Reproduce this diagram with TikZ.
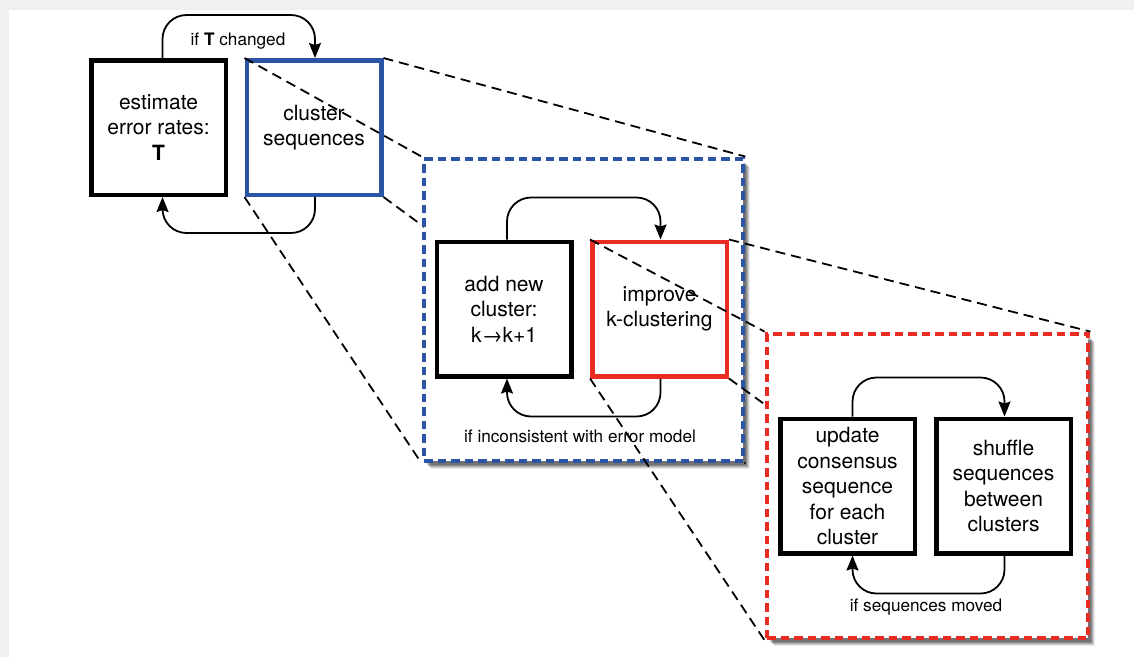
\documentclass[tikz,border=0pt]{standalone}
\usepackage{fontspec}
\setmainfont{TeX Gyre Heros}
\usetikzlibrary{arrows.meta}
\definecolor{boxblue}{RGB}{44,84,164}
\definecolor{boxred}{RGB}{232,44,36}
\definecolor{framegray}{RGB}{240,240,240}
\pgfdeclarelayer{base}
\pgfdeclarelayer{zoomA}
\pgfdeclarelayer{mid}
\pgfdeclarelayer{zoomB}
\pgfsetlayers{base,zoomA,mid,zoomB,main}

\begin{document}
\begin{tikzpicture}[x=1pt,y=-1pt,
  stepbox/.style={draw, line width=4.5pt, fill=white,
    minimum width=134.5pt, minimum height=134.5pt, inner sep=0pt,
    align=center, font=\fontsize{21}{25.5}\selectfont},
  shadowstep/.style n args={3}{preaction={draw=none, fill=black, fill opacity=#3,
    transform canvas={xshift=#1, yshift=#2}}},
  zoombox/.style={line width=4.8pt, dash pattern=on 8.5pt off 5pt, fill=white,
    inner sep=0pt,
    shadowstep={6.5pt}{-7.5pt}{0.08}, shadowstep={5.5pt}{-6.5pt}{0.12},
    shadowstep={4.5pt}{-5.5pt}{0.16}, shadowstep={3.5pt}{-4.5pt}{0.18},
    shadowstep={2.5pt}{-3.5pt}{0.18}},
  loop/.style={line width=1.8pt, rounded corners=24pt,
    -{Stealth[length=15pt,width=12pt,inset=2pt]}},
  looplabel/.style={font=\fontsize{17.2}{20}\selectfont, inner sep=1pt},
  zoomline/.style={line width=1.8pt, dash pattern=on 10pt off 6pt}]

\useasboundingbox (0,0) rectangle (1134,657);

% page frame
\begin{pgfonlayer}{base}
  \fill[framegray] (0,0) rectangle (1134,657);
  \fill[white] (9,10) rectangle (1134,657);
\end{pgfonlayer}

% outer loop: estimate error rates / cluster sequences
\begin{pgfonlayer}{base}
  \node[stepbox] (A) at (158.5,127.5) {estimate\\error rates:\\{\bfseries T}};
  \node[stepbox, draw=boxblue] (B) at (314,127.5) {cluster\\sequences};
  \draw[loop] ([xshift=4pt]A.north) -- ++(0,-43) -| ([xshift=1pt]B.north);
  \node[looplabel] (lT) at (238,41) {if {\bfseries T} changed};
  \draw[loop] ([xshift=1pt]B.south) -- ++(0,36) -| ([xshift=4pt]A.south);
\end{pgfonlayer}

% expansion of the clustering step
\begin{pgfonlayer}{mid}
  \node[zoombox, draw=boxblue, minimum width=319pt, minimum height=302pt]
    (C) at (583.5,310) {};
  \node[stepbox] (D) at (504,309) {add new\\cluster:\\k→k+1};
  \node[stepbox, draw=boxred] (E) at (659.5,309) {improve\\k-clustering};
  \draw[loop] ([xshift=3pt]D.north) -- ++(0,-42) -| ([xshift=1pt]E.north);
  \draw[loop] ([xshift=1pt]E.south) -- ++(0,38) -| ([xshift=3pt]D.south);
  \node[looplabel] (lC) at (580,436) {if inconsistent with error model};
\end{pgfonlayer}

\begin{pgfonlayer}{zoomA}
  \draw[zoomline] (B.north west) -- (C.north west);
  \draw[zoomline] (B.north east) -- (C.north east);
  \draw[zoomline] (B.south west) -- (C.south west);
  \draw[zoomline] (B.south east) -- (C.south east);
\end{pgfonlayer}

% expansion of the k-clustering step
\node[zoombox, draw=boxred, minimum width=321pt, minimum height=304pt]
  (F) at (927.5,486) {};
\node[stepbox] (G) at (847.5,486) {update\\consensus\\sequence\\for each\\cluster};
\node[stepbox] (H) at (1003.5,486) {shuffle\\sequences\\between\\clusters};
\draw[loop] ([xshift=5pt]G.north) -- ++(0,-39) -| ([xshift=1pt]H.north);
\draw[loop] ([xshift=1pt]H.south) -- ++(0,38) -| ([xshift=5pt]G.south);
\node[looplabel] (lF) at (926,607) {if sequences moved};

\begin{pgfonlayer}{zoomB}
  \draw[zoomline] (E.north west) -- (F.north west);
  \draw[zoomline] (E.north east) -- (F.north east);
  \draw[zoomline] (E.south west) -- (F.south west);
  \draw[zoomline] (E.south east) -- (F.south east);
\end{pgfonlayer}

\end{tikzpicture}
\end{document}
